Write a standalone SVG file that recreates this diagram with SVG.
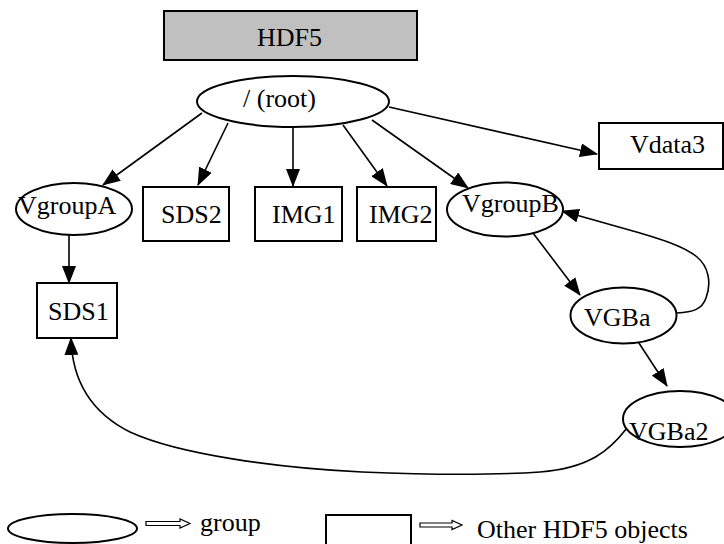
<svg xmlns="http://www.w3.org/2000/svg" width="724" height="544" viewBox="0 0 724 544">
<defs>
<style>
.n{fill:#fff;stroke:#000;stroke-width:2}
.t{font-family:'Liberation Serif','DejaVu Serif',serif;font-size:26px;fill:#000}
.e{fill:none;stroke:#000;stroke-width:1.6}
.la{fill:#fff;stroke:#000;stroke-width:1.2}
</style>
<marker id="ah" markerUnits="userSpaceOnUse" markerWidth="18" markerHeight="14" viewBox="0 0 18 14" refX="17" refY="7" orient="auto">
<path d="M0,0 L18,7 L0,14 Z" fill="#000"/>
</marker>
</defs>
<rect width="724" height="544" fill="#fff"/>
<g id="connectors">
<path class="e" d="M202,113 L103,185" marker-end="url(#ah)"/>
<path class="e" d="M228,123 L198,185" marker-end="url(#ah)"/>
<path class="e" d="M293,128 L293,186" marker-end="url(#ah)"/>
<path class="e" d="M343,125 L387,186" marker-end="url(#ah)"/>
<path class="e" d="M372,120 L468,188" marker-end="url(#ah)"/>
<path class="e" d="M389,107 L597,154" marker-end="url(#ah)"/>
<path class="e" d="M69,235 L69,283" marker-end="url(#ah)"/>
<path class="e" d="M533,233 L580,295" marker-end="url(#ah)"/>
<path class="e" d="M677,313 C692,312 702,310 706,298 C712,282 708,266 697,257 C684,246 660,239 640,233 L562,211" marker-end="url(#ah)"/>
<path class="e" d="M637,340 L667,386" marker-end="url(#ah)"/>
<path class="e" d="M627,428 C610,450 590,468 540,472 C480,476 410,474 362,472 C280,468 180,455 130,432 C90,412 72,380 71,338" marker-end="url(#ah)"/>
</g>
<g id="hdf5">
<rect x="164" y="11" width="253" height="49" fill="#c0c0c0" stroke="#000" stroke-width="2"/>
<text class="t" font-family="Liberation Serif, serif" x="257" y="46">HDF5</text>
</g>
<g id="root">
<ellipse class="n" cx="293" cy="101.5" rx="96" ry="25.5"/>
<text class="t" font-family="Liberation Serif, serif" x="243" y="107">/ (root)</text>
</g>
<g id="vgroupA">
<ellipse class="n" cx="74" cy="209" rx="58" ry="26"/>
<text class="t" font-family="Liberation Serif, serif" x="18" y="214" font-size="28">VgroupA</text>
</g>
<g id="sds2">
<rect class="n" x="143" y="187" width="86" height="54"/>
<text class="t" font-family="Liberation Serif, serif" x="161" y="223">SDS2</text>
</g>
<g id="img1">
<rect class="n" x="255" y="187" width="87" height="54"/>
<text class="t" font-family="Liberation Serif, serif" x="272" y="223">IMG1</text>
</g>
<g id="img2">
<rect class="n" x="357" y="187" width="79" height="54"/>
<text class="t" font-family="Liberation Serif, serif" x="369" y="223">IMG2</text>
</g>
<g id="vgroupB">
<ellipse class="n" cx="505" cy="209.5" rx="58" ry="27"/>
<text class="t" font-family="Liberation Serif, serif" x="462" y="212">VgroupB</text>
</g>
<g id="vdata3">
<rect class="n" x="599" y="123" width="124" height="46"/>
<text class="t" font-family="Liberation Serif, serif" x="630" y="153">Vdata3</text>
</g>
<g id="sds1">
<rect class="n" x="37" y="283" width="80" height="55"/>
<text class="t" font-family="Liberation Serif, serif" x="48" y="320">SDS1</text>
</g>
<g id="vgba">
<ellipse class="n" cx="623.5" cy="315.5" rx="53" ry="28"/>
<text class="t" font-family="Liberation Serif, serif" x="584" y="326">VGBa</text>
</g>
<g id="vgba2">
<ellipse class="n" cx="680" cy="419" rx="57" ry="28"/>
<text class="t" font-family="Liberation Serif, serif" x="629" y="440">VGBa2</text>
</g>
<g id="legend">
<ellipse class="n" cx="72.5" cy="528.5" rx="64.5" ry="14.5"/>
<path class="la" d="M146,521.5 L180,521.5 L180,519 L190,523.5 L180,528 L180,525.5 L146,525.5 Z"/>
<text class="t" font-family="Liberation Serif, serif" x="200" y="531">group</text>
<rect class="n" x="326" y="515" width="85" height="45"/>
<path class="la" d="M420,523 L452,523 L452,520.5 L462,525 L452,529.5 L452,527 L420,527 Z"/>
<text class="t" font-family="Liberation Serif, serif" x="477" y="538">Other HDF5 objects</text>
</g>
</svg>
